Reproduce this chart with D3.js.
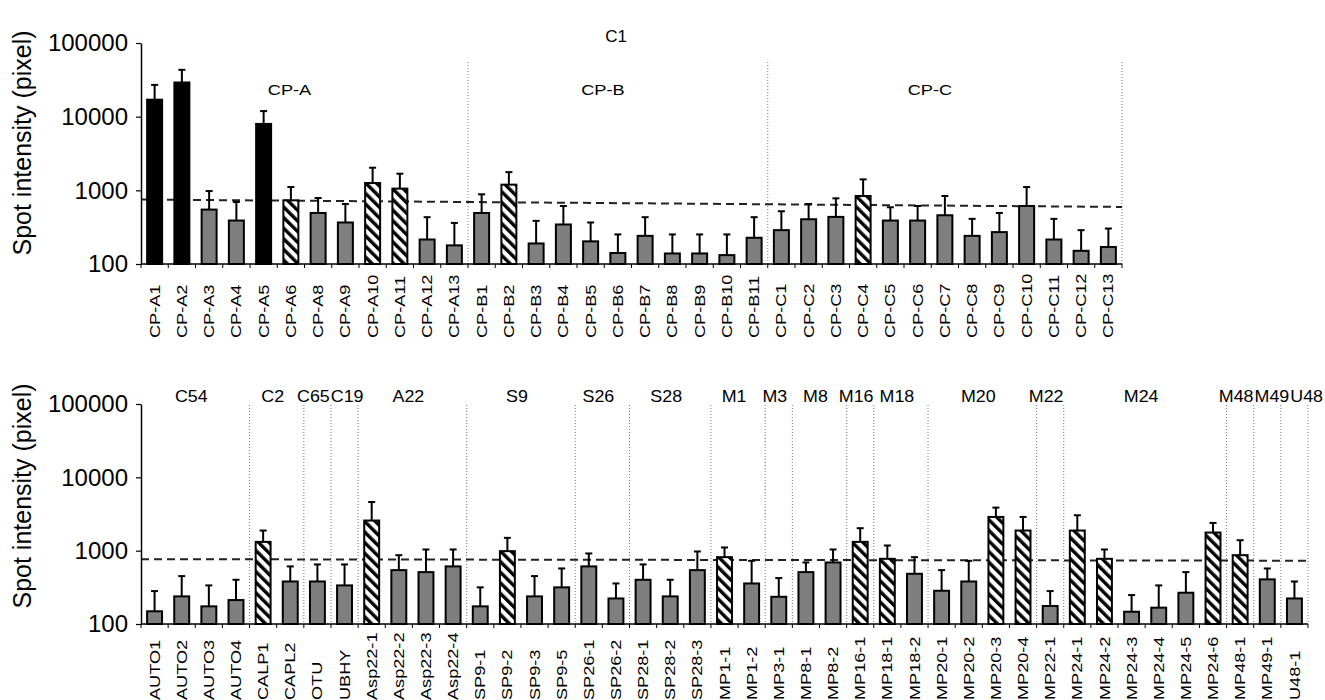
<!DOCTYPE html>
<html>
<head>
<meta charset="utf-8">
<script src="https://cdn.jsdelivr.net/npm/d3@7"></script>
<style>
  body { margin: 0; background: #fff; }
  text { font-family: "Liberation Sans", Arial, sans-serif; fill: #000; }
</style>
</head>
<body>
<div id="chart"></div>
<script>
// ---- top panel (C1) ----
var topLabels = ["CP-A1", "CP-A2", "CP-A3", "CP-A4", "CP-A5", "CP-A6", "CP-A8", "CP-A9", "CP-A10", "CP-A11", "CP-A12", "CP-A13",
  "CP-B1", "CP-B2", "CP-B3", "CP-B4", "CP-B5", "CP-B6", "CP-B7", "CP-B8", "CP-B9", "CP-B10", "CP-B11",
  "CP-C1", "CP-C2", "CP-C3", "CP-C4", "CP-C5", "CP-C6", "CP-C7", "CP-C8", "CP-C9", "CP-C10", "CP-C11", "CP-C12", "CP-C13"];
var topValues = [17000, 29100, 548, 389, 7970, 732, 493, 366, 1256, 1055, 215, 179,
  493, 1194, 190, 344, 203, 141, 241, 139, 139, 132, 227,
  288, 405, 436, 838, 389, 389, 459, 241, 271, 613, 215, 151, 170];
// upper end of each error bar
var topErrors = [27000, 43200, 978, 695, 11900, 1108, 787, 653, 2028, 1681, 432, 361,
  883, 1767, 385, 613, 366, 252, 432, 252, 252, 252, 432,
  520, 653, 779, 1408, 589, 613, 838, 410, 493, 1108, 410, 288, 303];
var topKind = ["strong", "strong", "neg", "neg", "strong", "pos", "neg", "neg", "pos", "pos", "neg", "neg",
  "neg", "pos", "neg", "neg", "neg", "neg", "neg", "neg", "neg", "neg", "neg",
  "neg", "neg", "neg", "pos", "neg", "neg", "neg", "neg", "neg", "neg", "neg", "neg", "neg"];
var topGroups = ["CP-A", "CP-B", "CP-C"];
var topGroupSizes = [12, 11, 13];
var topTitle = "C1";
var topThreshold = [750, 595];

// ---- bottom panel ----
var bottomLabels = ["AUTO1", "AUTO2", "AUTO3", "AUTO4", "CALP1", "CAPL2", "OTU", "UBHY",
  "Asp22-1", "Asp22-2", "Asp22-3", "Asp22-4", "SP9-1", "SP9-2", "SP9-3", "SP9-5",
  "SP26-1", "SP26-2", "SP28-1", "SP28-2", "SP28-3", "MP1-1", "MP1-2", "MP3-1", "MP8-1", "MP8-2",
  "MP16-1", "MP18-1", "MP18-2", "MP20-1", "MP20-2", "MP20-3", "MP20-4", "MP22-1",
  "MP24-1", "MP24-2", "MP24-3", "MP24-4", "MP24-5", "MP24-6", "MP48-1", "MP49-1", "U48-1"];
var bottomValues = [149, 238, 174, 212, 1318, 380, 380, 336,
  2575, 543, 510, 610, 174, 985, 238, 316,
  610, 223, 401, 238, 543, 816, 357, 235, 510, 691,
  1318, 774, 484, 284, 380, 2884, 1881, 176,
  1881, 774, 147, 167, 267, 1767, 868, 406, 223];
var bottomErrors = [281, 450, 336, 401, 1881, 610, 649, 649,
  4610, 868, 1038, 1038, 316, 1496, 450, 572,
  916, 357, 649, 401, 975, 1105, 727, 423, 691, 1038,
  2024, 1176, 816, 543, 727, 3865, 2884, 281,
  3041, 1038, 248, 336, 510, 2391, 1389, 572, 380];
var bottomKind = ["neg", "neg", "neg", "neg", "pos", "neg", "neg", "neg",
  "pos", "neg", "neg", "neg", "neg", "pos", "neg", "neg",
  "neg", "neg", "neg", "neg", "neg", "pos", "neg", "neg", "neg", "neg",
  "pos", "pos", "neg", "neg", "neg", "pos", "pos", "neg",
  "pos", "pos", "neg", "neg", "neg", "pos", "pos", "neg", "neg"];
var bottomGroups = ["C54", "C2", "C65", "C19", "A22", "S9", "S26", "S28", "M1", "M3", "M8",
  "M16", "M18", "M20", "M22", "M24", "M48", "M49", "U48"];
var bottomGroupSizes = [4, 2, 1, 1, 4, 4, 2, 3, 2, 1, 2, 1, 2, 4, 1, 6, 1, 1, 1];
var bottomThreshold = [765, 730];

var yTicks = [100, 1000, 10000, 100000];
var yTitle = "Spot intensity (pixel)";

// canvas
var svg = d3.select("#chart").append("svg").attr("width", 1325).attr("height", 700);

// hatch pattern for the positive bars
var defs = svg.append("defs");
var pat = defs.append("pattern").attr("id", "hatch").attr("patternUnits", "userSpaceOnUse")
  .attr("width", 7.5).attr("height", 7.5).attr("patternTransform", "rotate(-45)");
pat.append("rect").attr("width", 7.5).attr("height", 7.5).attr("fill", "#fff");
pat.append("line").attr("x1", 1.7).attr("y1", 0).attr("x2", 1.7).attr("y2", 7.5)
  .attr("stroke", "#000").attr("stroke-width", 3.4);

var fill = d3.scaleOrdinal().domain(["strong", "pos", "neg"]).range(["#000", "url(#hatch)", "#7f7f7f"]);

renderPanel({ x0: 141, x1: 1122, yTop: 43, yBase: 264, divTop: 62, labelBottom: 338, groupY: 95,
    groupShift: -15, groupSize: 14, groupStretch: 1.3, titleY: 143 },
  topLabels, topValues, topErrors, topKind, topGroups, topGroupSizes, topThreshold);

renderPanel({ x0: 141, x1: 1308, yTop: 404, yBase: 624, divTop: 405, labelBottom: 700, groupY: 402,
    groupShift: -4, groupSize: 17, groupStretch: 1.05, titleY: 496 },
  bottomLabels, bottomValues, bottomErrors, bottomKind, bottomGroups, bottomGroupSizes, bottomThreshold);

// the overall title of the top panel
svg.append("text").attr("x", 616).attr("y", 42).attr("text-anchor", "middle")
  .attr("font-size", 17).text(topTitle);

/**
 * draws one bar panel with its log axis, dividers and labels
 */
function renderPanel(cfg, labels, values, errors, kinds, groups, sizes, threshold) {
  var g = svg.append("g");

  var x = d3.scaleBand().domain(labels).range([cfg.x0, cfg.x1]).paddingInner(0.45).paddingOuter(0.225);
  var y = d3.scaleLog().domain([100, 100000]).range([cfg.yBase, cfg.yTop]);
  var step = x.step();

  // group boundaries
  var ends = d3.cumsum(sizes);
  var starts = ends.map(function (e, i) { return e - sizes[i]; });

  // dotted dividers at the right end of every group
  g.selectAll(".div").data(ends).enter().append("line")
    .attr("x1", function (e) { return cfg.x0 + e * step; })
    .attr("x2", function (e) { return cfg.x0 + e * step; })
    .attr("y1", cfg.divTop).attr("y2", cfg.yBase)
    .attr("stroke", "#777").attr("stroke-width", 1).attr("stroke-dasharray", "1,2");

  // threshold line
  g.append("line").attr("x1", cfg.x0).attr("x2", cfg.x1)
    .attr("y1", y(threshold[0])).attr("y2", y(threshold[1]))
    .attr("stroke", "#222").attr("stroke-width", 2).attr("stroke-dasharray", "8,5");

  // bars
  g.selectAll(".bar").data(labels).enter().append("rect")
    .attr("x", function (d) { return x(d); })
    .attr("width", x.bandwidth())
    .attr("y", function (d, i) { return y(values[i]); })
    .attr("height", function (d, i) { return cfg.yBase - y(values[i]); })
    .attr("fill", function (d, i) { return fill(kinds[i]); })
    .attr("stroke", "#000").attr("stroke-width", 2);

  // upper error bars
  var err = g.selectAll(".err").data(labels).enter().append("g");
  err.append("line")
    .attr("x1", function (d) { return x(d) + x.bandwidth() / 2; })
    .attr("x2", function (d) { return x(d) + x.bandwidth() / 2; })
    .attr("y1", function (d, i) { return y(values[i]); })
    .attr("y2", function (d, i) { return y(errors[i]); })
    .attr("stroke", "#000").attr("stroke-width", 2);
  err.append("line")
    .attr("x1", function (d) { return x(d) + x.bandwidth() / 2 - 3.5; })
    .attr("x2", function (d) { return x(d) + x.bandwidth() / 2 + 3.5; })
    .attr("y1", function (d, i) { return y(errors[i]); })
    .attr("y2", function (d, i) { return y(errors[i]); })
    .attr("stroke", "#000").attr("stroke-width", 2);

  // y axis
  var yAxis = d3.axisLeft(y).tickValues(yTicks).tickFormat(d3.format("d"))
    .tickSize(5).tickSizeOuter(0).tickPadding(8);
  var ya = g.append("g").attr("transform", "translate(" + cfg.x0 + ",0)").call(yAxis);
  ya.select(".domain").attr("stroke", "#000").attr("stroke-width", 1.5);
  ya.selectAll(".tick line").attr("stroke", "#000").attr("stroke-width", 1.2);
  ya.selectAll(".tick text").attr("font-size", 24).attr("font-family", "Liberation Sans, Arial, sans-serif")
    .attr("fill", "#111");

  // x axis line and the small ticks between the bars
  g.append("line").attr("x1", cfg.x0).attr("x2", cfg.x1).attr("y1", cfg.yBase).attr("y2", cfg.yBase)
    .attr("stroke", "#000").attr("stroke-width", 1.5);
  g.selectAll(".xt").data(d3.range(labels.length + 1)).enter().append("line")
    .attr("x1", function (i) { return cfg.x0 + i * step; })
    .attr("x2", function (i) { return cfg.x0 + i * step; })
    .attr("y1", cfg.yBase).attr("y2", cfg.yBase + 4)
    .attr("stroke", "#000").attr("stroke-width", 1);

  // category labels, reading upward
  g.selectAll(".lab").data(labels).enter().append("text")
    .attr("transform", function (d) {
      return "translate(" + (x(d) + x.bandwidth() / 2) + "," + cfg.labelBottom + ") rotate(-90) scale(1.25,1)";
    })
    .attr("dy", "0.35em").attr("font-size", 14.5).text(function (d) { return d; });

  // group labels, pushed apart where narrow groups would make them collide
  var grp = g.selectAll(".grp").data(groups).enter().append("text")
    .attr("text-anchor", "middle").attr("font-size", cfg.groupSize).text(function (d) { return d; });
  var lastRight = -Infinity;
  grp.each(function (d, i) {
    var w = this.getComputedTextLength() * cfg.groupStretch;
    var cx = cfg.x0 + (starts[i] + ends[i]) / 2 * step + cfg.groupShift;
    if (cx - w / 2 < lastRight + 1) cx = lastRight + 1 + w / 2;
    lastRight = cx + w / 2;
    d3.select(this).attr("transform", "translate(" + cx + "," + cfg.groupY + ") scale(" + cfg.groupStretch + ",1)");
  });

  // axis title
  g.append("text").attr("transform", "translate(31," + cfg.titleY + ") rotate(-90)")
    .attr("text-anchor", "middle").attr("font-size", 25).text(yTitle);
}
</script>
</body>
</html>
